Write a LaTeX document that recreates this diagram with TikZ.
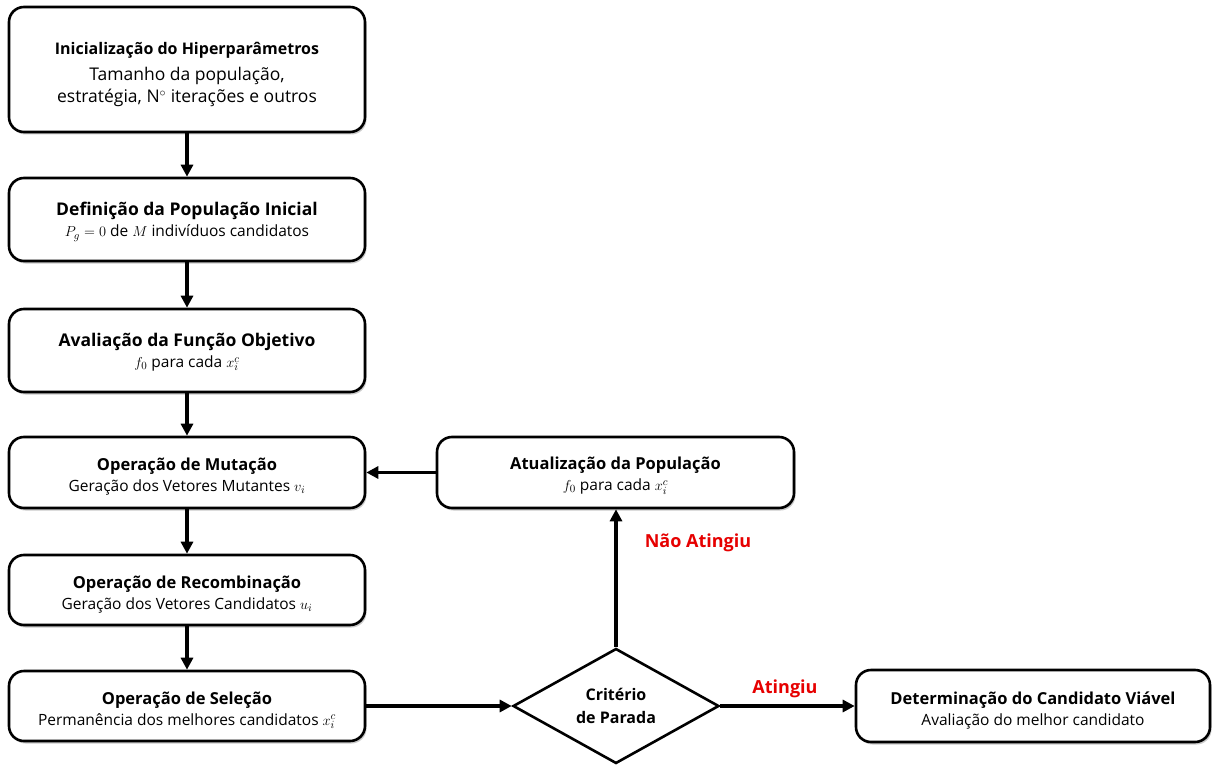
\documentclass[tikz,border=0pt]{standalone}
\usepackage{fontspec}
\setmainfont{Open Sans}
\usetikzlibrary{arrows.meta,shapes.geometric,shadows}
\definecolor{flowred}{RGB}{230,0,0}
\newcommand{\ttlfont}{\bfseries\fontsize{16.5}{22}\selectfont}
\newcommand{\bigttlfont}{\bfseries\fontsize{17.5}{22}\selectfont}
\newcommand{\subfont}{\mdseries\fontsize{15.5}{22}\selectfont}
% invisible strut that pushes a node's text block slightly downward
\newcommand{\topstrut}[1]{\rule{0pt}{#1}}
\begin{document}
\begin{tikzpicture}[x=1pt,y=-1pt,
  procbox/.style={draw=black, line width=2.6pt, rounded corners=15pt, fill=white,
    minimum width=356pt, align=center, inner sep=0pt,
    drop shadow={shadow xshift=1.5pt, shadow yshift=-2.5pt, opacity=0.35, fill=black!60}},
  decision/.style={draw=black, line width=2.6pt, diamond, fill=white, aspect=1.79,
    minimum width=206pt, minimum height=115pt, inner sep=0pt, align=center,
    font=\bfseries\fontsize{16}{23}\selectfont},
  flow/.style={line width=3.2pt, -{Triangle[length=12pt,width=12pt]}},
  flowlabel/.style={text=flowred, font=\bfseries\fontsize{18}{22}\selectfont}
]
\useasboundingbox (0,0) rectangle (1212,765);

% main column of process steps
\node[procbox, minimum height=125pt] (init) at (187,69.5)
  {\bfseries\fontsize{16}{22}\selectfont\topstrut{22pt}Inicialização do Hiperparâmetros\\[8pt]
   \mdseries\fontsize{17.5}{22}\selectfont Tamanho da população,\\[4pt]
   \mdseries\fontsize{17.5}{22}\selectfont estratégia, $\mathrm{N}^{\circ}$ iterações e outros};
\node[procbox, minimum height=83pt] (pop) at (187,219.5)
  {\bigttlfont\topstrut{18pt}Definição da População Inicial\\[4pt]
   \subfont $P_g = 0$ de $M$ indivíduos candidatos};
\node[procbox, minimum height=83pt] (obj) at (187,350.5)
  {\bigttlfont\topstrut{16.5pt}Avaliação da Função Objetivo\\[4pt]
   \subfont $f_0$ para cada $x_i^c$};
\node[procbox, minimum height=71pt] (mut) at (187,472.5)
  {\ttlfont\topstrut{21pt}Operação de Mutação\\[4pt]
   \subfont Geração dos Vetores Mutantes $v_i$};
\node[procbox, minimum height=70pt] (rec) at (187,590)
  {\ttlfont\topstrut{21pt}Operação de Recombinação\\[4pt]
   \subfont Geração dos Vetores Candidatos $u_i$};
\node[procbox, minimum height=70pt] (sel) at (187,706)
  {\ttlfont\topstrut{21pt}Operação de Seleção\\[4pt]
   \subfont Permanência dos melhores candidatos $x_i^c$};

% loop and termination
\node[procbox, minimum width=357pt, minimum height=71pt] (upd) at (615.5,472.5)
  {\ttlfont\topstrut{19pt}Atualização da População\\[4pt]
   \subfont $f_0$ para cada $x_i^c$};
\node[decision] (crit) at (616,706) {Critério\\de Parada};
\node[procbox, minimum width=354pt, minimum height=72pt] (best) at (1033,706)
  {\ttlfont\topstrut{21pt}Determinação do Candidato Viável\\[4pt]
   \subfont Avaliação do melhor candidato};

% connectors
\draw[flow] (init) -- (pop);
\draw[flow] (pop) -- (obj);
\draw[flow] (obj) -- (mut);
\draw[flow] (mut) -- (rec);
\draw[flow] (rec) -- (sel);
\draw[flow] (sel) -- (crit);
\draw[flow] (crit) -- (best);
\draw[flow] (crit.north) -- (upd.south -| crit.north);
\draw[flow] (upd) -- (mut);

\node[flowlabel] (no) at (698,543) {Não Atingiu};
\node[flowlabel] (yes) at (785,689) {Atingiu};
\end{tikzpicture}
\end{document}
